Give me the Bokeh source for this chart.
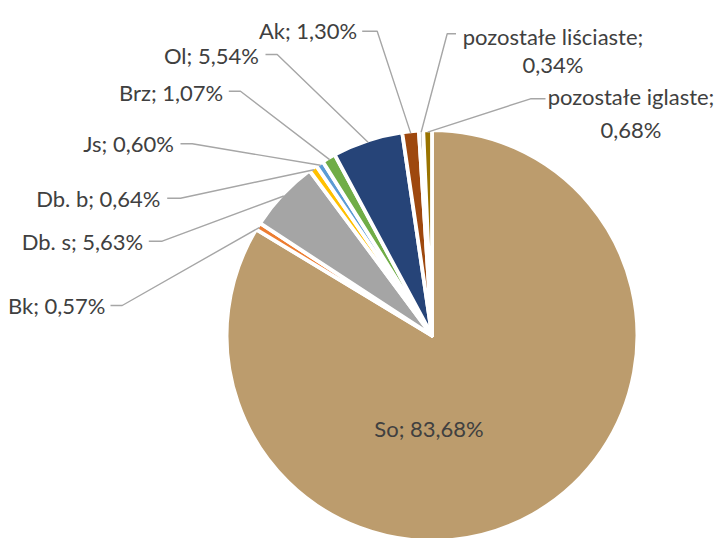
import math
from bokeh.plotting import figure
from bokeh.models import Range1d, ColumnDataSource
from bokeh.core.properties import value
from bokeh.embed import file_html
from bokeh.resources import INLINE

# ---- data ----
categories = ["So", "Bk", "Db. s", "Db. b", "Js", "Brz", "Ol", "Ak",
              "pozostałe liściaste", "pozostałe iglaste"]
shares = [83.68, 0.57, 5.63, 0.64, 0.60, 1.07, 5.54, 1.30, 0.34, 0.68]
colors = ["#BC9C6D", "#ED7D31", "#A5A5A5", "#FFC000", "#5B9BD5", "#70AD47",
          "#264478", "#9E480E", "#636363", "#997300"]

# ---- layout (reference pixel space, y down) ----
W, H = 717, 538
CX, CY, R = 431.5, 335.0, 203.5
STROKE = 3.8
FONT = "Lato"
FSIZE = "22px"
TXT = "#404040"

# label layout per category: (anchor x, [baselines], align, leader y, leader start x, elbow x)
label_layout = {
    "So": (428.5, [428.3], "center", None, None, None),
    "Bk": (105.0, [305.0], "right", 305.0, 110.0, 121.7),
    "Db. s": (142.7, [240.7], "right", 240.7, 148.3, 161.7),
    "Db. b": (160.0, [198.3], "right", 197.7, 166.7, 180.0),
    "Js": (173.3, [143.3], "right", 143.3, 180.0, 191.7),
    "Brz": (222.7, [91.7], "right", 90.7, 228.3, 240.0),
    "Ol": (258.3, [55.0], "right", 54.0, 265.0, 276.7),
    "Ak": (356.7, [30.0], "right", 30.7, 361.7, 376.7),
    "pozostałe liściaste": (552.5, [36.0, 64.0], "center", 33.3, 455.5, 446.7),
    "pozostałe iglaste": (630.5, [96.0, 129.0], "center", 98.3, 545.0, 530.0),
}


def Y(y_ref):
    return H - y_ref


p = figure(width=W, height=H, x_range=Range1d(0, W), y_range=Range1d(0, H),
           toolbar_location=None, output_backend="svg", min_border=0,
           x_axis_type=None, y_axis_type=None)
p.grid.visible = False
p.outline_line_color = None
p.background_fill_color = "white"
p.border_fill_color = "white"

total = sum(shares)
starts, ends, mids = [], [], []
cum = 0.0
for s in shares:
    a0 = math.pi / 2 - 2 * math.pi * cum / total
    cum += s
    a1 = math.pi / 2 - 2 * math.pi * cum / total
    starts.append(a0)
    ends.append(a1)
    mids.append((a0 + a1) / 2)

src = ColumnDataSource(dict(start=starts, end=ends, color=colors, cat=categories))
p.wedge(x=CX, y=Y(CY), radius=R + STROKE / 2, radius_units="screen",
        start_angle="start", end_angle="end", direction="clock",
        fill_color="color", line_color="white", line_width=STROKE,
        line_join="round", source=src)


def fmt(v):
    return f"{v:.2f}".replace(".", ",") + "%"


tx, ty, tt, ta = [], [], [], []
lx, ly = [], []
for cat, s, m in zip(categories, shares, mids):
    ax, baselines, align, leady, lstart, elbow = label_layout[cat]
    if len(baselines) == 1:
        lines = [f"{cat}; {fmt(s)}"]
    else:
        lines = [f"{cat};", fmt(s)]
    for line, b in zip(lines, baselines):
        tx.append(ax)
        ty.append(Y(b))
        tt.append(line)
        ta.append(align)
    if leady is not None:
        # point on the slice's outer edge at its middle angle
        px = CX + R * math.cos(m)
        py = CY - R * math.sin(m)
        lx.append([lstart, elbow, px])
        ly.append([Y(leady), Y(leady), Y(py)])

p.multi_line(xs=lx, ys=ly, line_color="#A6A6A6", line_width=1.4)

tsrc = ColumnDataSource(dict(x=tx, y=ty, text=tt, align=ta))
p.text(x="x", y="y", text="text", text_align="align", text_baseline="alphabetic",
       text_font=value(FONT), text_font_size=FSIZE, text_color=TXT, source=tsrc)

open("out.html", "w").write(file_html(p, INLINE))
